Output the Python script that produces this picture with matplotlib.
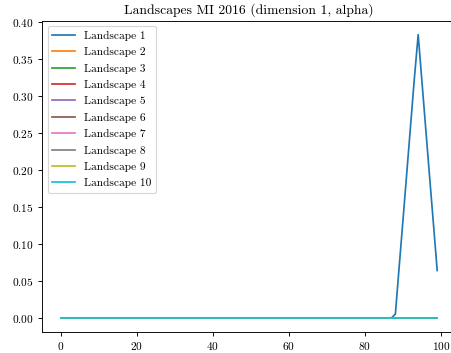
import matplotlib
matplotlib.use('Agg')
import matplotlib.pyplot as plt
import numpy as np

plt.rcParams['font.family'] = ['cmr10', 'DejaVu Serif']
plt.rcParams['axes.formatter.use_mathtext'] = True
plt.rcParams['mathtext.fontset'] = 'cm'

x = np.arange(100)

# landscape 1 is zero until x=87, then a single tent
peak_x = [88, 89, 90, 91, 92, 93, 94, 95, 96, 97, 98, 99]
peak_y = [0.005, 0.069, 0.132, 0.196, 0.260, 0.324, 0.383,
          0.319, 0.255, 0.191, 0.128, 0.064]
labels = [f'Landscape {i}' for i in range(1, 11)]

land1 = np.zeros(100)
land1[peak_x] = peak_y

# saved at a low dpi, so fonts and lines look small
DPI = 82
fig = plt.figure(figsize=(451 / DPI, 353 / DPI), dpi=DPI)
ax = fig.add_axes([0.0931, 0.0595, 0.918, 0.8824])

for i, lab in enumerate(labels):
    y = land1 if i == 0 else np.zeros(100)
    ax.plot(x, y, label=lab)

ax.set_title('Landscapes MI 2016 (dimension 1, alpha)')
ax.set_xticks([0, 20, 40, 60, 80, 100])
ax.legend(loc='upper left', labelspacing=0.56)

fig.savefig('out.png', dpi=DPI)
